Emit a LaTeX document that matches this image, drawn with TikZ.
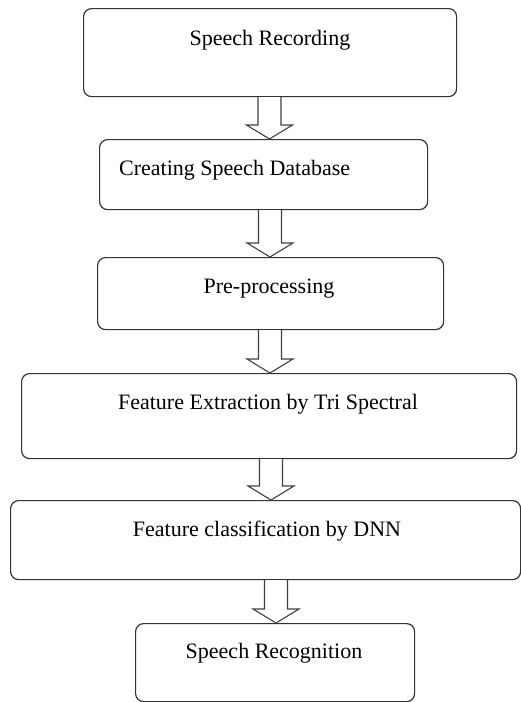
\documentclass[tikz,border=0pt]{standalone}
\usepackage{fontspec}
\setmainfont{Liberation Serif}
\usetikzlibrary{calc}
\begin{document}
\begin{tikzpicture}[x=1pt,y=-1pt,
  stepbox/.style={draw=black!80, line width=1.2pt, rounded corners=8pt, inner sep=0pt, anchor=north west},
  lab/.style={inner sep=0pt, font=\fontsize{22}{26}\selectfont, text=black},
  blockarrow/.style={draw=black!75, line width=1.1pt, fill=white, line join=miter}]
\useasboundingbox (0,0) rectangle (521,702);
% boxes
\node[stepbox, minimum width=373pt, minimum height=88pt] (b1) at (83,8) {};
\node[stepbox, minimum width=328pt, minimum height=70pt] (b2) at (99,139) {};
\node[stepbox, minimum width=346pt, minimum height=72pt] (b3) at (97,257) {};
\node[stepbox, minimum width=495pt, minimum height=85pt] (b4) at (21,373) {};
\node[stepbox, minimum width=510pt, minimum height=79pt] (b5) at (10,500) {};
\node[stepbox, minimum width=279pt, minimum height=78pt] (b6) at (135,623) {};
% labels
\node[lab, anchor=base] (t1) at (270,45) {Speech Recording};
\node[lab, anchor=base west] (t2) at (119,175) {Creating Speech Database};
\node[lab, anchor=base] (t3) at (269,293) {Pre-processing};
\node[lab, anchor=base] (t4) at (268,409) {Feature Extraction by Tri Spectral};
\node[lab, anchor=base] (t5) at (267,536) {Feature classification by DNN};
\node[lab, anchor=base] (t6) at (274,658) {Speech Recognition};
% arrow axes
\coordinate (a1) at (269.5,0);
\coordinate (a2) at (270,0);
\coordinate (a3) at (270,0);
\coordinate (a4) at (271,0);
\coordinate (a5) at (276,0);
\foreach \a/\f/\t in {a1/b1/b2, a2/b2/b3, a3/b3/b4, a4/b4/b5, a5/b5/b6}{
  \draw[blockarrow]
    ($(\a |- \f.south)+(-11.5,0)$) --
    ($(\a |- \t.north)+(-11.5,-14)$) --
    ($(\a |- \t.north)+(-23,-14)$) --
    (\a |- \t.north) --
    ($(\a |- \t.north)+(23,-14)$) --
    ($(\a |- \t.north)+(11.5,-14)$) --
    ($(\a |- \f.south)+(11.5,0)$);
}
\end{tikzpicture}
\end{document}
